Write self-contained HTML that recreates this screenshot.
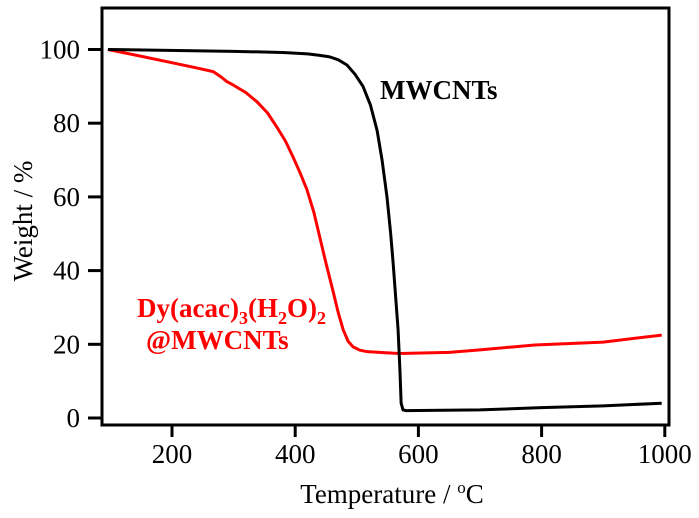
<!DOCTYPE html>
<html><head><meta charset="utf-8"><style>
html,body{margin:0;padding:0;background:#fff;}
svg{display:block;}
svg text{font-family:"Liberation Serif",serif;}
</style></head><body>
<svg id="chart" width="699" height="518">
<rect x="102" y="8" width="567" height="417" fill="none" stroke="#000" stroke-width="3"/>
<g id="xticks"></g>
<g id="yticks"></g>
<g id="series"></g>
<text x="392" y="503" font-size="27" text-anchor="middle">Temperature / <tspan font-size="17" dy="-10">o</tspan><tspan dy="10">C</tspan></text>
<text transform="translate(32,221) rotate(-90)" font-size="27" text-anchor="middle">Weight / %</text>
<text x="380" y="99" font-size="27" font-weight="bold">MWCNTs</text>
<text x="137" y="317" font-size="27" font-weight="bold" fill="#ff0000">Dy(acac)<tspan font-size="18" dy="7">3</tspan><tspan dy="-7">(H</tspan><tspan font-size="18" dy="7">2</tspan><tspan dy="-7">O)</tspan><tspan font-size="18" dy="7">2</tspan></text>
<text x="146" y="349" font-size="27" font-weight="bold" fill="#ff0000">@MWCNTs</text>
</svg>
<script>
const xTicks=[200,400,600,800,1000];
const yTicks=[0,20,40,60,80,100];
const blackT=[96,300,380,420,440,456,470,484,497,510,522,533,541,549,555,559,563,567,570,572,575,580,700,800,900,995];
const blackW=[100,99.5,99.2,98.8,98.4,98,97.2,95.8,93.3,90,85,78,70,60,50,42,33,24,13,4,2.2,2,2.2,2.8,3.3,4];
const redT=[96,140,192,240,267,280,289,300,320,338,355,370,384,396,408,419,430,440,450,461,470,478,486,494,505,517,569,650,700,789,900,995];
const redW=[100,98.5,96.7,95,94,92.5,91.3,90.3,88.3,85.8,82.8,79,75.2,71,66.5,62,56,49,42,34.7,28.5,23.9,20.8,19.3,18.4,18,17.5,17.8,18.5,19.8,20.6,22.5];
const NS="http://www.w3.org/2000/svg";
function xs(t){return 172+(t-200)*0.616;}
function ys(v){return 418-v*3.685;}
const gx=document.getElementById('xticks'),gy=document.getElementById('yticks'),gs=document.getElementById('series');
xTicks.forEach(t=>{
  const l=document.createElementNS(NS,'line');
  l.setAttribute('x1',xs(t));l.setAttribute('x2',xs(t));l.setAttribute('y1',425);l.setAttribute('y2',437);
  l.setAttribute('stroke','#000');l.setAttribute('stroke-width','3');
  
  
  gx.appendChild(l);
  const tx=document.createElementNS(NS,'text');
  tx.setAttribute('x',xs(t));tx.setAttribute('y',463);tx.setAttribute('font-size','27');tx.setAttribute('text-anchor','middle');
  tx.textContent=t;
  
  
  gx.appendChild(tx);
});
yTicks.forEach(v=>{
  const l=document.createElementNS(NS,'line');
  l.setAttribute('x1',88);l.setAttribute('x2',102);l.setAttribute('y1',ys(v));l.setAttribute('y2',ys(v));
  l.setAttribute('stroke','#000');l.setAttribute('stroke-width','3');
  
  
  gy.appendChild(l);
  const tx=document.createElementNS(NS,'text');
  tx.setAttribute('x',80);tx.setAttribute('y',ys(v)+9);tx.setAttribute('font-size','27');tx.setAttribute('text-anchor','end');
  tx.textContent=v;
  
  
  gy.appendChild(tx);
});
function line(T,W,color,name){
  const p=document.createElementNS(NS,'polyline');
  p.setAttribute('points',T.map((t,i)=>xs(t)+','+ys(W[i])).join(' '));
  p.setAttribute('fill','none');p.setAttribute('stroke',color);p.setAttribute('stroke-width','3');p.setAttribute('stroke-linejoin','round');
  
  
  gs.appendChild(p);
}
line(redT,redW,'#ff0000','dy-mwcnts-line');
line(blackT,blackW,'#000','mwcnts-line');
</script>
</body></html>
